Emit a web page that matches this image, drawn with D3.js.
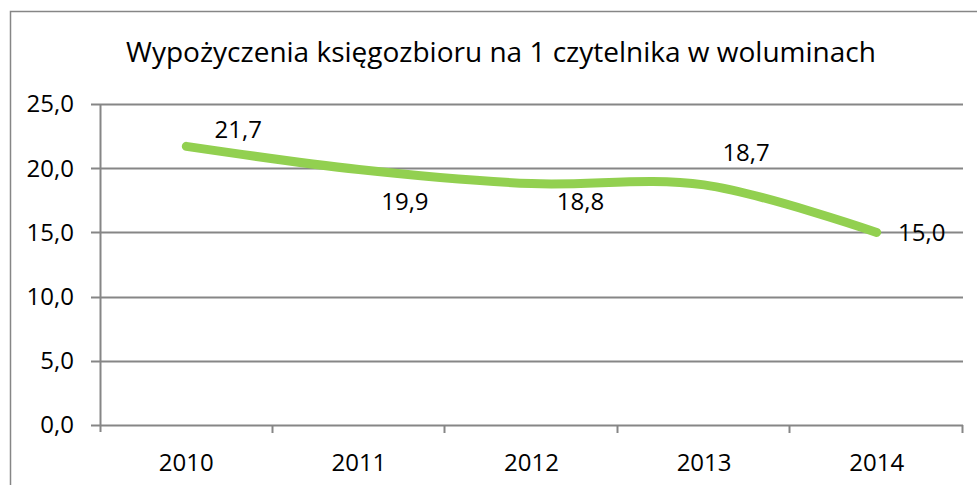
<!DOCTYPE html>
<html>
<head>
<meta charset="utf-8">
<script src="https://cdn.jsdelivr.net/npm/d3@7"></script>
<style>
  body { margin: 0; background: #fff; }
  svg { display: block; font-family: "Open Sans", sans-serif; fill: #000; }
</style>
</head>
<body>
<svg id="chart" width="977" height="485"></svg>
<script>
// ---- data
const years = ["2010", "2011", "2012", "2013", "2014"];
const values = [21.7, 19.9, 18.8, 18.7, 15.0];
const yTicks = [0, 5, 10, 15, 20, 25];
const title = "Wypożyczenia księgozbioru na 1 czytelnika w woluminach";

// ---- layout
const plotLeft = 100, plotRight = 963, plotTop = 104, plotBottom = 425;
const green = "#92d050", axisGrey = "#868686";
const tickFont = 24;

// label offsets (dx, dy) relative to each point
const labelPos = [[52, -17], [46, 32], [49, 18], [42, -32], [45, 0]];

const svg = d3.select("#chart");
const fmt = v => d3.format(".1f")(v).replace(".", ",");

// outer chart border (cut off at right/bottom like the original)
svg.append("path")
  .attr("d", "M10.5,485 V11.5 H977")
  .attr("fill", "none")
  .attr("stroke", axisGrey)
  .attr("stroke-width", 1.5);

svg.append("text")
  .attr("x", 501).attr("y", 62)
  .attr("text-anchor", "middle")
  .attr("font-size", 28)
  .text(title);

const x = d3.scaleBand(years, [plotLeft, plotRight]);
const y = d3.scaleLinear([0, 25], [plotBottom, plotTop]);

// gridlines + y ticks
svg.append("g")
  .selectAll("line")
  .data(yTicks)
  .join("line")
  .attr("x1", plotLeft - 9).attr("x2", plotRight)
  .attr("y1", d => Math.round(y(d)) + 0.5).attr("y2", d => Math.round(y(d)) + 0.5)
  .attr("stroke", axisGrey).attr("stroke-width", 2);

svg.append("g")
  .selectAll("text")
  .data(yTicks)
  .join("text")
  .attr("x", 74).attr("y", d => y(d))
  .attr("dy", "0.35em")
  .attr("text-anchor", "end")
  .attr("font-size", tickFont)
  .text(fmt);

// y axis line
svg.append("line")
  .attr("x1", plotLeft + 0.5).attr("x2", plotLeft + 0.5)
  .attr("y1", plotTop).attr("y2", plotBottom + 7)
  .attr("stroke", axisGrey).attr("stroke-width", 2);

// x axis tick marks at category boundaries
const xBounds = years.map(d => x(d)).concat([plotRight]);
svg.append("g")
  .selectAll("line")
  .data(xBounds.slice(1))
  .join("line")
  .attr("x1", d => Math.round(d) - 0.5).attr("x2", d => Math.round(d) - 0.5)
  .attr("y1", plotBottom).attr("y2", plotBottom + 8)
  .attr("stroke", axisGrey).attr("stroke-width", 2);

svg.append("g")
  .selectAll("text")
  .data(years)
  .join("text")
  .attr("x", d => x(d) + x.bandwidth() / 2)
  .attr("y", 463)
  .attr("dy", "0.35em")
  .attr("text-anchor", "middle")
  .attr("font-size", tickFont)
  .text(d => d);

// smoothed series line
const pts = years.map((d, i) => [x(d) + x.bandwidth() / 2, y(values[i])]);
svg.append("path")
  .datum(pts)
  .attr("d", d3.line().curve(d3.curveCardinal.tension(0)))
  .attr("fill", "none")
  .attr("stroke", green)
  .attr("stroke-width", 9)
  .attr("stroke-linecap", "round")
  .attr("stroke-linejoin", "round");

// data labels
svg.append("g")
  .selectAll("text")
  .data(values)
  .join("text")
  .attr("x", (d, i) => pts[i][0] + labelPos[i][0])
  .attr("y", (d, i) => pts[i][1] + labelPos[i][1])
  .attr("dy", "0.35em")
  .attr("text-anchor", "middle")
  .attr("font-size", tickFont)
  .text(fmt);
</script>
</body>
</html>
